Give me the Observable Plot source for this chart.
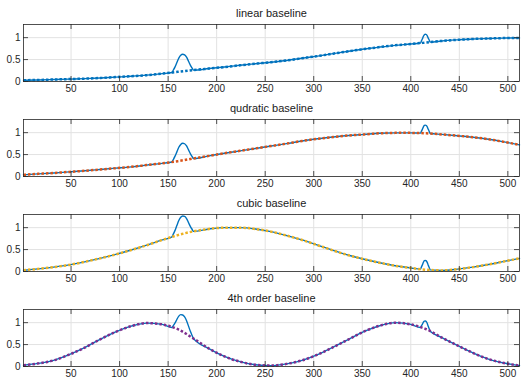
<!DOCTYPE html>
<html>
<head>
<meta charset="utf-8">
<script src="https://cdn.jsdelivr.net/npm/d3@7"></script>
<script src="https://cdn.jsdelivr.net/npm/@observablehq/plot@0.6"></script>
<style>
  html, body { margin: 0; padding: 0; background: #fff; }
  svg { display: block; }
</style>
</head>
<body>
<div id="chart"></div>
<script>
// ---- data ----
const titles = ["linear baseline", "qudratic baseline", "cubic baseline", "4th order baseline"];
const xTicks = [50, 100, 150, 200, 250, 300, 350, 400, 450, 500];
const yTicks = [0, 0.5, 1];

const xGrid = [1,16,32,48,64,80,96,112,128,144,160,176,192,208,224,240,256,272,288,304,320,336,352,368,384,400,416,432,448,464,480,496,512];

const linearBase = [0.03,0.035,0.045,0.055,0.065,0.08,0.1,0.12,0.145,0.18,0.22,0.26,0.295,0.33,0.37,0.405,0.44,0.48,0.53,0.58,0.635,0.69,0.74,0.785,0.825,0.855,0.89,0.925,0.95,0.97,0.98,0.99,0.995];
const quadBase   = [0.04,0.06,0.08,0.105,0.13,0.16,0.19,0.22,0.26,0.3,0.35,0.41,0.47,0.53,0.585,0.64,0.695,0.75,0.81,0.86,0.9,0.935,0.96,0.985,0.995,0.995,0.985,0.96,0.93,0.895,0.85,0.79,0.72];
const cubicBase  = [0.03,0.06,0.1,0.15,0.22,0.3,0.39,0.49,0.6,0.72,0.83,0.915,0.97,1.0,1.0,0.97,0.91,0.82,0.72,0.6,0.48,0.37,0.28,0.2,0.13,0.08,0.04,0.025,0.055,0.1,0.16,0.23,0.3];
const fourthBase = [0.03,0.07,0.14,0.27,0.43,0.62,0.79,0.92,0.99,0.96,0.85,0.64,0.41,0.23,0.11,0.04,0.02,0.06,0.14,0.27,0.44,0.62,0.8,0.93,1.0,0.96,0.85,0.66,0.48,0.31,0.17,0.08,0.02];

// signal (with peaks) around the two peaks
const bump1X = [154,155,157,159,161,163,165,167,169,171,173,175,176];
const bump2X = [410,411,412,413,414,415,416,417,418,419,420];
const linearBump1 = [0.205,0.246,0.329,0.432,0.534,0.598,0.622,0.608,0.554,0.462,0.369,0.296,0.26];
const linearBump2 = [0.877,0.927,0.976,1.032,1.068,1.078,1.072,1.04,0.989,0.945,0.899];
const quadBump1   = [0.331,0.373,0.458,0.562,0.666,0.732,0.759,0.747,0.696,0.606,0.516,0.445,0.41];
const quadBump2   = [0.989,1.034,1.081,1.131,1.164,1.171,1.163,1.128,1.076,1.028,0.98];
const cubicBump1  = [0.789,0.837,0.932,1.049,1.163,1.236,1.267,1.257,1.206,1.115,1.022,0.951,0.915];
const cubicBump2  = [0.055,0.105,0.155,0.211,0.247,0.252,0.242,0.203,0.143,0.09,0.036];
const fourthBump1 = [0.89,0.919,0.987,1.072,1.149,1.182,1.175,1.13,1.044,0.921,0.796,0.692,0.64];
const fourthBump2 = [0.89,0.929,0.967,1.01,1.036,1.037,1.023,0.978,0.916,0.859,0.802];

const baseColors = ["#0072BD", "#D95319", "#EDB120", "#7E2F8E"];
const signalColor = "#0072BD";

// ---- build tables ----
const bases = [linearBase, quadBase, cubicBase, fourthBase];
const bumps1 = [linearBump1, quadBump1, cubicBump1, fourthBump1];
const bumps2 = [linearBump2, quadBump2, cubicBump2, fourthBump2];

const b1lo = bump1X[0], b1hi = bump1X[bump1X.length - 1];
const b2lo = bump2X[0], b2hi = bump2X[bump2X.length - 1];

const font = "'Liberation Sans', Arial, Helvetica, sans-serif";
const container = document.getElementById("chart");

titles.forEach((title, i) => {
  const base = xGrid.map((x, j) => ({x, y: bases[i][j]}));
  const signal = base
    .filter(d => !((d.x >= b1lo && d.x <= b1hi) || (d.x >= b2lo && d.x <= b2hi)))
    .concat(bump1X.map((x, j) => ({x, y: bumps1[i][j]})))
    .concat(bump2X.map((x, j) => ({x, y: bumps2[i][j]})))
    .sort((a, b) => a.x - b.x);

  const last = i === titles.length - 1;
  const chart = Plot.plot({
    width: 526,
    height: last ? 98 : 95,
    marginLeft: 23,
    marginRight: 7,
    marginTop: 24,
    marginBottom: last ? 17 : 14,
    style: {fontFamily: font, fontSize: "10px", color: "#262626", background: "#fff"},
    x: {domain: [1, 512], ticks: xTicks, tickSize: 0, tickPadding: 3, tickFormat: d => String(d), label: null},
    y: {domain: [0, 1.3], ticks: yTicks, tickSize: 0, tickPadding: 3, tickFormat: d => String(d), label: null},
    marks: [
      Plot.ruleX(xTicks, {x: d => d, stroke: "#e2e2e2", strokeWidth: 1}),
      Plot.ruleY(yTicks, {y: d => d, stroke: "#e2e2e2", strokeWidth: 1}),
      Plot.line(signal, {x: "x", y: "y", stroke: signalColor, strokeWidth: 1.4, curve: "monotone-x"}),
      Plot.line(base, {x: "x", y: "y", stroke: baseColors[i], strokeWidth: 2.5, strokeDasharray: "2.5,2", strokeLinecap: "butt", curve: "monotone-x"}),
      Plot.frame({stroke: "#262626", strokeWidth: 0.8}),
      Plot.tickX(xTicks, {x: d => d, insetTop: 52, stroke: "#262626", strokeWidth: 0.8}),
      Plot.tickX(xTicks, {x: d => d, insetBottom: 52, stroke: "#262626", strokeWidth: 0.8}),
      Plot.tickY(yTicks, {y: d => d, insetRight: 491, stroke: "#262626", strokeWidth: 0.8}),
      Plot.tickY(yTicks, {y: d => d, insetLeft: 491, stroke: "#262626", strokeWidth: 0.8}),
      Plot.text([title], {frameAnchor: "top", lineAnchor: "bottom", dy: -8, text: d => d, fontWeight: "normal", fontSize: 11, fill: "#1a1a1a"})
    ]
  });
  container.appendChild(chart);
});
</script>
</body>
</html>
